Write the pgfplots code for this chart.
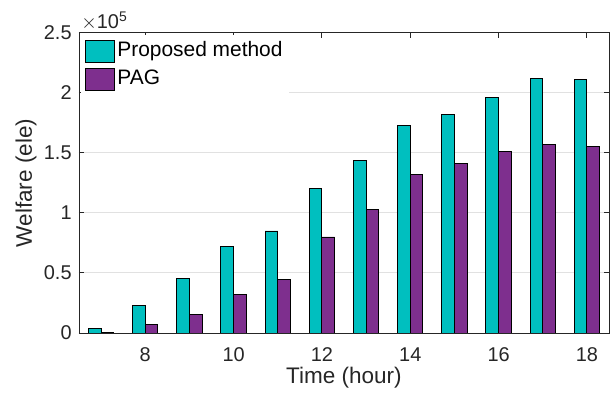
\documentclass[border=0pt]{standalone}
\usepackage{pgfplots}
\pgfplotsset{compat=1.18}
\usepackage{pgfplotstable}
\usepackage{fontspec}
\setmainfont{Liberation Sans}
\usetikzlibrary{calc}
\definecolor{tealc}{RGB}{0,191,191}
\definecolor{purpc}{RGB}{126,47,142}
\definecolor{axc}{RGB}{38,38,38}
\definecolor{gridc}{RGB}{225,225,225}

\pgfplotstableread{
t prop pag
7 4000 300
8 22800 7200
9 45300 15800
10 71700 32200
11 85000 44700
12 120600 80000
13 143700 102800
14 172800 132300
15 182000 141000
16 196500 151400
17 212300 157200
18 211000 155500
}\datatable

\begin{document}
\begin{tikzpicture}
\begin{axis}[
  scale only axis, width=265bp, height=150bp,
  xmin=6.5, xmax=18.5, ymin=0, ymax=250000,
  xtick={8,10,...,18}, ytick={0,50000,...,250000},
  scaled y ticks=base 10:-5,
  ytick scale label code/.code={$\times$10\textsuperscript{5}},
  every y tick scale label/.style={at={(rel axis cs:0,1)}, anchor=south west, inner sep=0pt, xshift=4.5bp, yshift=1bp, font=\fontsize{10}{12}\selectfont, text=axc},
  /pgf/number format/assume math mode=true,
  axis line style={axc, line width=0.5bp},
  major tick style={axc, line width=0.5bp},
  major tick length=2.65bp,
  tick label style={font=\fontsize{10}{12}\selectfont, text=axc},
  xticklabel style={inner sep=0pt, yshift=-7bp},
  yticklabel style={inner sep=0pt, xshift=-3.5bp},
  ymajorgrids, major grid style={gridc, line width=0.5bp},
  label style={font=\fontsize{11.3}{13}\selectfont, text=axc},
  xlabel={Time (hour)}, ylabel={Welfare (ele)},
  xlabel style={at={(rel axis cs:0.5,0)}, anchor=center, yshift=-22.5bp},
  ylabel style={at={(rel axis cs:0,0.5)}, anchor=center, yshift=26.5bp},
  legend style={at={(rel axis cs:0,1)}, anchor=north west, xshift=1bp, yshift=-1bp,
    fill=white, draw=none, font=\fontsize{10.5}{12}\selectfont, text=black,
    inner xsep=2bp, inner ysep=2bp, row sep=2.4bp,
    nodes={inner sep=1bp, text height=7.6bp, text depth=2.2bp}},
  legend cell align=left,
  legend image code/.code={\draw[#1] (0bp,-5.5bp) rectangle (14.5bp,5.5bp);},
]
\addplot[ybar, bar width=0.286, bar shift=-0.143, fill=tealc, draw=black, line width=0.5pt] table[x=t,y=prop]{\datatable};
\addlegendentry{Proposed method}
\addplot[ybar, bar width=0.286, bar shift=0.143, fill=purpc, draw=black, line width=0.5pt] table[x=t,y=pag]{\datatable};
\addlegendentry{PAG}
\end{axis}
\pgfresetboundingbox
\path ($(current axis.south west)+(-39.5bp,-32bp)$) rectangle ($(current axis.north east)+(3bp,16.5bp)$);
\end{tikzpicture}
\end{document}
